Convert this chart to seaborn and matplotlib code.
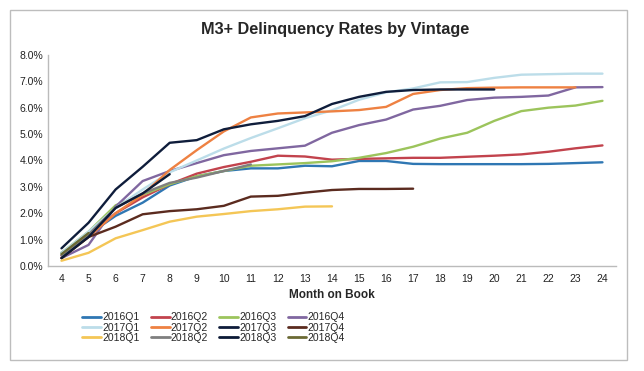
import numpy as np
import pandas as pd
import matplotlib
matplotlib.use('Agg')
import matplotlib.pyplot as plt
import seaborn as sns
from matplotlib.ticker import FuncFormatter
from matplotlib.patches import Rectangle

nan = np.nan
months = list(range(4, 25))
vintages = ['2016Q1', '2016Q2', '2016Q3', '2016Q4',
            '2017Q1', '2017Q2', '2017Q3', '2017Q4',
            '2018Q1', '2018Q2', '2018Q3', '2018Q4']

# M3+ rates (%) for month on book 4..24
q2016_1 = [0.5, 1.2, 1.9, 2.4, 3.05, 3.4, 3.6, 3.7, 3.7, 3.8, 3.78, 3.98, 3.98, 3.87, 3.86, 3.86, 3.86, 3.86, 3.87, 3.9, 3.93]
q2016_2 = [0.4, 1.1, 2.0, 2.6, 3.1, 3.5, 3.75, 3.95, 4.18, 4.15, 4.03, 4.06, 4.08, 4.1, 4.1, 4.14, 4.18, 4.23, 4.33, 4.46, 4.57]
q2016_3 = [0.5, 1.3, 2.3, 2.7, 3.1, 3.4, 3.6, 3.8, 3.85, 3.9, 3.97, 4.1, 4.28, 4.52, 4.83, 5.05, 5.5, 5.87, 6.0, 6.08, 6.26]
q2016_4 = [0.3, 0.8, 2.25, 3.22, 3.6, 3.9, 4.2, 4.36, 4.46, 4.56, 5.05, 5.34, 5.55, 5.93, 6.07, 6.29, 6.38, 6.41, 6.46, 6.77, 6.78]
q2017_1 = [0.5, 1.3, 2.2, 2.9, 3.55, 4.0, 4.45, 4.85, 5.22, 5.6, 5.9, 6.3, 6.58, 6.73, 6.96, 6.97, 7.13, 7.25, 7.27, 7.29, 7.29]
q2017_2 = [0.3, 1.1, 2.0, 2.7, 3.64, 4.39, 5.1, 5.63, 5.78, 5.82, 5.86, 5.91, 6.03, 6.52, 6.67, 6.74, 6.76, 6.77, 6.77, 6.77, nan]
q2017_3 = [0.67, 1.64, 2.9, 3.76, 4.67, 4.77, 5.18, 5.37, 5.5, 5.68, 6.14, 6.41, 6.6, 6.67, 6.69, 6.69, 6.69, nan, nan, nan, nan]
q2017_4 = [0.3, 1.1, 1.49, 1.96, 2.08, 2.15, 2.28, 2.63, 2.66, 2.78, 2.88, 2.92, 2.92, 2.93, nan, nan, nan, nan, nan, nan, nan]
q2018_1 = [0.2, 0.5, 1.05, 1.36, 1.68, 1.87, 1.97, 2.08, 2.15, 2.25, 2.26, nan, nan, nan, nan, nan, nan, nan, nan, nan, nan]
q2018_2 = [0.4, 1.2, 2.2, 2.75, 3.15, 3.35, 3.6, 3.85, nan, nan, nan, nan, nan, nan, nan, nan, nan, nan, nan, nan, nan]
q2018_3 = [0.3, 1.1, 2.2, 2.75, 3.48, nan, nan, nan, nan, nan, nan, nan, nan, nan, nan, nan, nan, nan, nan, nan, nan]
q2018_4 = [0.45, 1.25, nan, nan, nan, nan, nan, nan, nan, nan, nan, nan, nan, nan, nan, nan, nan, nan, nan, nan, nan]

series = [q2016_1, q2016_2, q2016_3, q2016_4, q2017_1, q2017_2,
          q2017_3, q2017_4, q2018_1, q2018_2, q2018_3, q2018_4]
colors = ['#2f77b3', '#c2434d', '#9cc45c', '#8067a0', '#bcdde9', '#ee8142',
          '#0f1d3b', '#5b2b1f', '#f4c656', '#7f7f7f', '#0c1a36', '#6b6a34']

rows = []
for v, vals in zip(vintages, series):
    for m, r in zip(months, vals):
        rows.append({'month': m, 'rate': r, 'vintage': v})
df = pd.DataFrame(rows)

sns.set_style('white')
plt.rcParams['font.family'] = ['Liberation Sans', 'DejaVu Sans']

fig = plt.figure(figsize=(6.44, 3.71), dpi=100)
ax = fig.add_axes([0.0745, 0.283, 0.882, 0.569])

sns.lineplot(data=df, x='month', y='rate', hue='vintage', hue_order=vintages,
             palette=colors, linewidth=1.7, ax=ax, legend=False)

ax.set_xlim(3.5, 24.5)
ax.set_ylim(0, 8)
ax.set_xticks(months)
ax.set_yticks(np.arange(0, 8.1, 1))
ax.yaxis.set_major_formatter(FuncFormatter(lambda v, p: f'{v:.1f}%'))
ax.tick_params(axis='both', length=0, labelsize=7.5, colors='#222222')
ax.tick_params(axis='x', pad=6)
ax.set_ylabel('')
ax.set_xlabel('Month on Book', fontsize=8.5, fontweight='bold', labelpad=3)
for s in ['top', 'right']:
    ax.spines[s].set_visible(False)
for s in ['left', 'bottom']:
    ax.spines[s].set_color('#bbbbbb')
    ax.spines[s].set_linewidth(1)

fig.suptitle('M3+ Delinquency Rates by Vintage', fontsize=11.7, fontweight='bold', y=0.94, x=0.52)

# legend fills column by column, so reorder to read row-wise
order = [0, 4, 8, 1, 5, 9, 2, 6, 10, 3, 7, 11]
handles = [plt.Line2D([], [], color=colors[i], linewidth=2) for i in order]
labels = [vintages[i] for i in order]
fig.legend(handles, labels, loc='upper left', bbox_to_anchor=(0.12, 0.172),
           ncol=4, frameon=False, fontsize=7.5, handlelength=1.8, handletextpad=0.1,
           columnspacing=1.08, labelspacing=0.02, borderpad=0)

fig.patches.append(Rectangle((0.0155, 0.03), 0.958, 0.943, transform=fig.transFigure,
                             fill=False, edgecolor='#bdbdbd', linewidth=1))

fig.savefig('out.png', dpi=100)
